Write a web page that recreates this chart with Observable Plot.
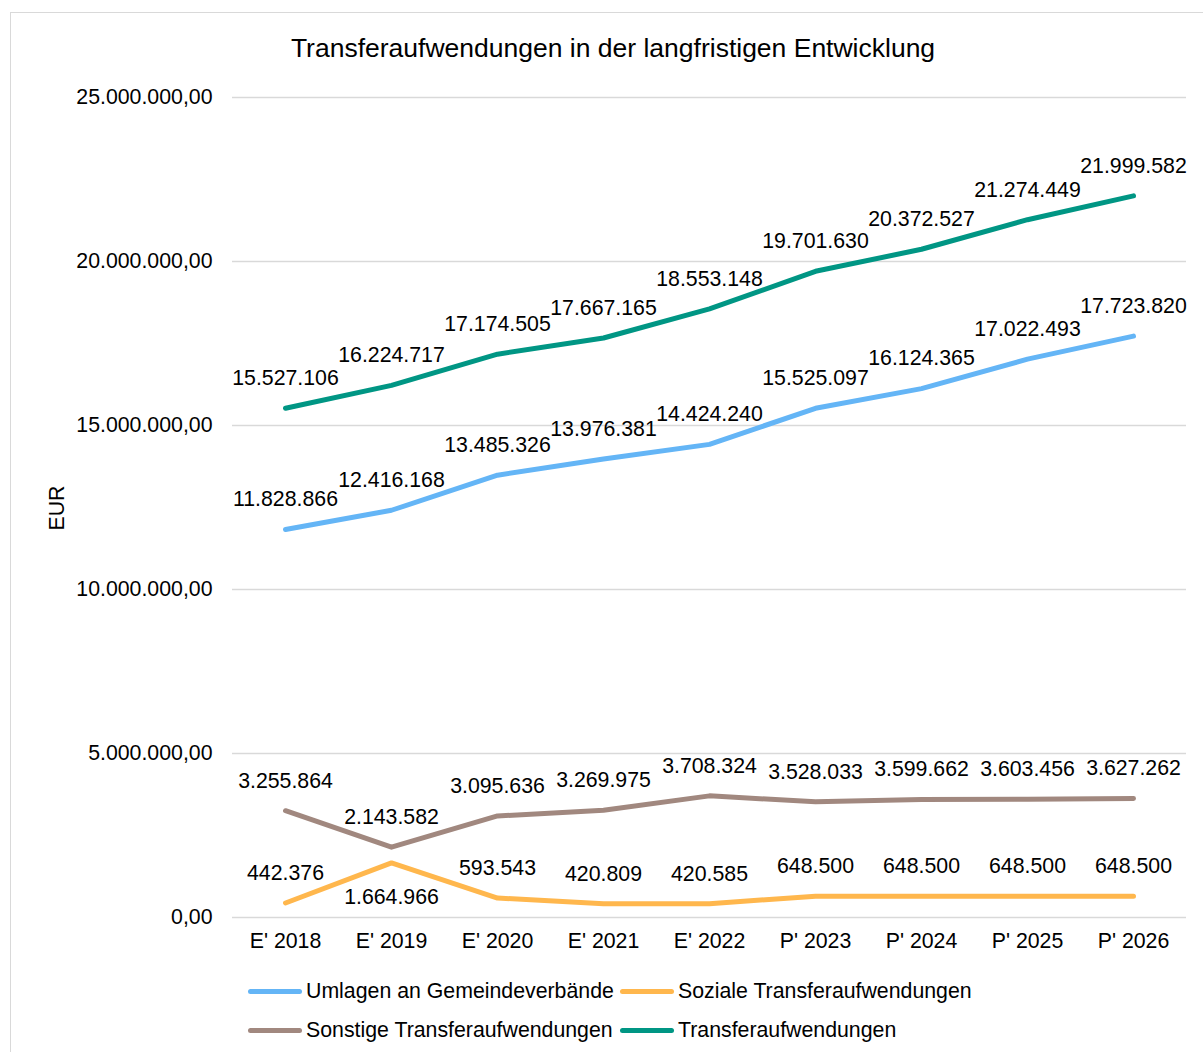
<!DOCTYPE html>
<html><head><meta charset="utf-8">
<script src="https://cdn.jsdelivr.net/npm/d3@7"></script>
<script src="https://cdn.jsdelivr.net/npm/@observablehq/plot@0.6"></script>
<style>
body{margin:0;background:#fff;font-family:"Liberation Sans",Arial,sans-serif;}
#frame{position:relative;width:1203px;height:1052px;overflow:hidden;background:#fff;}
#border{position:absolute;left:10px;top:12px;width:1250px;height:1100px;border:1.5px solid #d9d9d9;box-sizing:border-box;}
#title{position:absolute;top:32px;left:0;width:1226px;text-align:center;font-size:26.5px;line-height:32px;color:#000;white-space:nowrap;}
#chart{position:absolute;left:0;top:0;}
.leg{position:absolute;display:flex;align-items:center;font-size:21.3px;line-height:24px;color:#000;white-space:nowrap;}
.sw{width:54px;height:5px;border-radius:3px;margin-right:4px;}
</style>
</head><body>
<div id="frame">
<div id="border"></div>
<div id="chart"></div>
<div id="title">Transferaufwendungen in der langfristigen Entwicklung</div>
<div id="legend"></div>
</div>
<script>
const categories = ["E' 2018","E' 2019","E' 2020","E' 2021","E' 2022","P' 2023","P' 2024","P' 2025","P' 2026"];
const seriesNames = ["Umlagen an Gemeindeverbände","Soziale Transferaufwendungen","Sonstige Transferaufwendungen","Transferaufwendungen"];
const umlagen = [11828866,12416168,13485326,13976381,14424240,15525097,16124365,17022493,17723820];
const soziale = [442376,1664966,593543,420809,420585,648500,648500,648500,648500];
const sonstige = [3255864,2143582,3095636,3269975,3708324,3528033,3599662,3603456,3627262];
const transfer = [15527106,16224717,17174505,17667165,18553148,19701630,20372527,21274449,21999582];
const yTicks = [0,5000000,10000000,15000000,20000000,25000000];
const colors = ["#64b5f6","#ffb74d","#a1887f","#009684"];

const loc = d3.formatLocale({decimal:",",thousands:".",grouping:[3],currency:["","€"]});
const fmtTick = loc.format(",.2f");
const fmtLab = loc.format(",.0f");

const allSeries = [umlagen, soziale, sonstige, transfer];
const data = [];
allSeries.forEach((vals, si) => vals.forEach((v, i) => data.push({series: seriesNames[si], cat: categories[i], value: v, si, i})));
// label below point only where Excel placed it below
const isBelow = d => d.si === 1 && d.i === 1;

const W = 1203, H = 970;
const font = "'Liberation Sans', Arial, sans-serif";
const plot = Plot.plot({
  width: W, height: H,
  marginLeft: 232, marginRight: 17, marginTop: 97, marginBottom: H - 917,
  style: {fontFamily: font, fontSize: "21.3px", color: "#000", background: "transparent"},
  x: {type: "point", domain: categories, padding: 0.5, label: null},
  y: {domain: [0, 25000000], label: null},
  color: {domain: seriesNames, range: colors},
  marks: [
    Plot.gridY(yTicks, {stroke: "#d9d9d9", strokeOpacity: 1, strokeWidth: 1.5}),
    Plot.axisY(yTicks, {tickSize: 0, tickPadding: 20, tickFormat: fmtTick, fontSize: 21.3, label: null}),
    Plot.axisX({tickSize: 0, tickPadding: 15, fontSize: 21.3, label: null}),
    Plot.line(data, {x: "cat", y: "value", z: "series", stroke: "series", strokeWidth: 5, strokeLinecap: "round", strokeLinejoin: "round"}),
    Plot.text(data.filter(d => !isBelow(d)), {x: "cat", y: "value", text: d => fmtLab(d.value), dy: -30, fontSize: 21.3, fill: "#000"}),
    Plot.text(data.filter(isBelow), {x: "cat", y: "value", text: d => fmtLab(d.value), dy: 34, fontSize: 21.3, fill: "#000"})
  ]
});
document.getElementById("chart").appendChild(plot);

// y-axis title
const svg = d3.select(plot);
svg.append("text").attr("transform","translate(64,508) rotate(-90)").attr("text-anchor","middle")
  .style("font-size","21.3px").style("font-family",font).text("EUR");

// legend
const legPos = [[248,991],[620,991],[248,1030],[620,1030]];
const leg = document.getElementById("legend");
seriesNames.forEach((n, k) => {
  const d = document.createElement("div");
  d.className = "leg";
  d.style.left = legPos[k][0] + "px";
  d.style.top = (legPos[k][1] - 12) + "px";
  d.innerHTML = `<span class="sw" style="background:${colors[k]}"></span><span>${n}</span>`;
  leg.appendChild(d);
});
</script>
</body></html>
